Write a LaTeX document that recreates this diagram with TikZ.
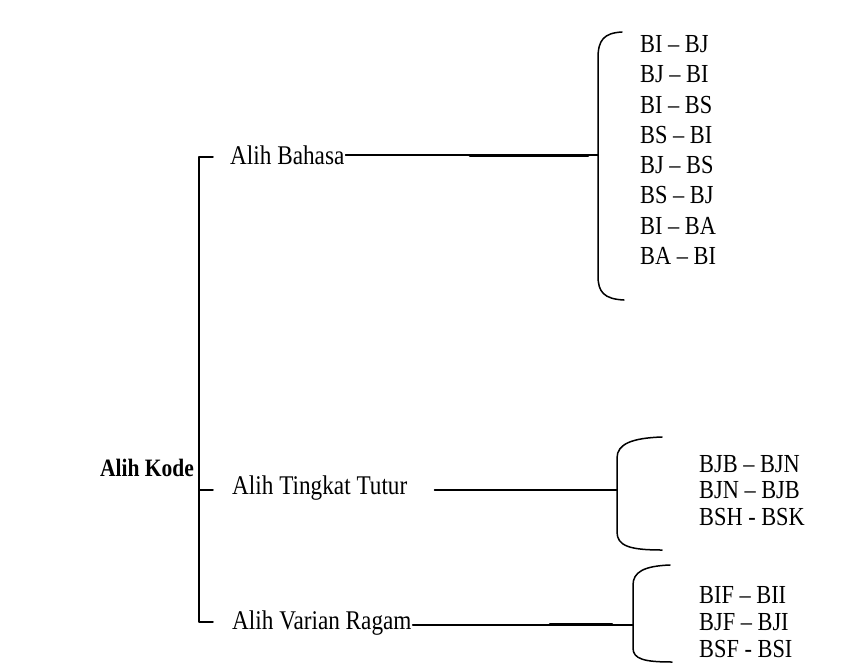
\documentclass[tikz,border=0pt]{standalone}
\usepackage{fontspec}
\setmainfont{Liberation Serif}[FakeStretch=0.86]
\tikzset{
  branch/.style={anchor=west, inner sep=1pt, font=\fontsize{27}{30}\selectfont},
  pair/.style={anchor=west, inner sep=1pt, font=\fontsize{26}{29}\selectfont},
  brace/.style={line width=1.5pt, line cap=round, line join=round},
  link/.style={line width=1.4pt},
}
\begin{document}
\begin{tikzpicture}[x=1pt,y=-1pt,line cap=round,line join=round]
\useasboundingbox (0,0) rectangle (861,669);
% root and branches
\node[branch, anchor=center, font=\fontsize{25}{28}\selectfont\bfseries] (kode) at (147,468) {Alih Kode};
\node[branch] (bahasa) at (229,155) {Alih Bahasa};
\node[branch] (tingkat) at (231,488) {Alih Tingkat Tutur};
\node[branch] (varian) at (231,623) {Alih Varian Ragam};
% main bracket
\coordinate (top) at (213,157);
\coordinate (mid) at (213,490);
\coordinate (bot) at (213,622);
\draw[brace] (top) -| (199,490) |- (bot);
\draw[brace] (199,490) -- (mid);
% bracket of Alih Bahasa
\coordinate (bA) at (598,156);
\draw[brace] (622,32) .. controls (604,33) and (598,40) .. (598,58) -- (598,276)
  .. controls (598,292) and (604,299) .. (624,300);
\foreach \t [count=\i] in {BI – BJ, BJ – BI, BI – BS, BS – BI, BJ – BS, BS – BJ, BI – BA, BA – BI}
  \node[pair] (ba\i) at (639,{44+30.3*(\i-1)}) {\t};
% bracket of Alih Tingkat Tutur
\coordinate (bT) at (617,490);
\draw[brace] (662,437) .. controls (632,438) and (617,444) .. (617,458) -- (617,532)
  .. controls (617,546) and (630,550) .. (662,550);
\foreach \t [count=\i] in {BJB – BJN, BJN – BJB, BSH - BSK}
  \node[pair] (tt\i) at (698,{464+26.5*(\i-1)}) {\t};
% bracket of Alih Varian Ragam
\coordinate (bV) at (633,625);
\draw[brace] (670,565) .. controls (644,566) and (633,572) .. (633,585) -- (633,648)
  .. controls (633,659) and (644,662) .. (672,662);
\foreach \t [count=\i] in {BIF – BII, BJF – BJI, BSF - BSI}
  \node[pair] (vr\i) at (698,{595+27*(\i-1)}) {\t};
% connectors
\draw[link] (bahasa.east) -- (bahasa.east -| bA);
\draw[line width=2.6pt] (470,156) -- (588,156);
\draw[link] (tingkat.east) ++(26,2) -- (bT);
\draw[link] (varian.east) ++(0,2) -- (bV);
\draw[line width=2.4pt] (550,624) -- (612,624);
\end{tikzpicture}
\end{document}
